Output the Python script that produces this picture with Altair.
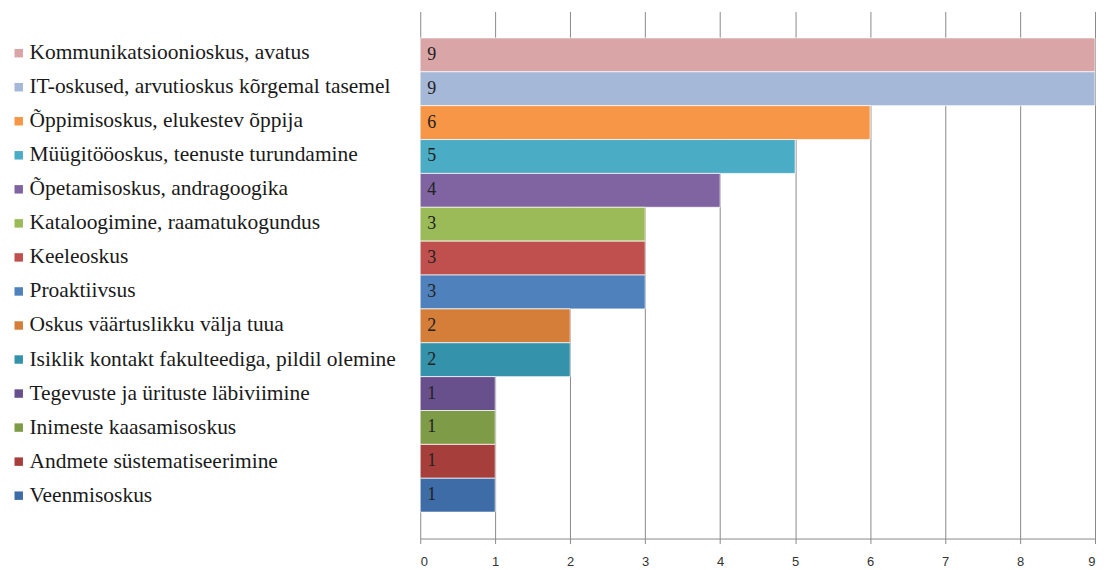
import altair as alt
import pandas as pd

categories = [
    "Kommunikatsioonioskus, avatus",
    "IT-oskused, arvutioskus kõrgemal tasemel",
    "Õppimisoskus, elukestev õppija",
    "Müügitööoskus, teenuste turundamine",
    "Õpetamisoskus, andragoogika",
    "Kataloogimine, raamatukogundus",
    "Keeleoskus",
    "Proaktiivsus",
    "Oskus väärtuslikku välja tuua",
    "Isiklik kontakt fakulteediga, pildil olemine",
    "Tegevuste ja ürituste läbiviimine",
    "Inimeste kaasamisoskus",
    "Andmete süstematiseerimine",
    "Veenmisoskus",
]
values = [9, 9, 6, 5, 4, 3, 3, 3, 2, 2, 1, 1, 1, 1]
colors = [
    "#D9A5A6", "#A6B8D8", "#F79646", "#4BACC6", "#8064A2", "#9BBB59", "#C0504D",
    "#4F81BD", "#D57E3A", "#3592AB", "#68508C", "#7E9C47", "#A63E3B", "#3E6CA6",
]
ticks = list(range(10))

df = pd.DataFrame({"skill": categories, "value": values})

yenc = alt.Y("skill:N", sort=categories,
             scale=alt.Scale(paddingInner=0, paddingOuter=0.78), axis=None)

base = alt.Chart(df)

bars = base.mark_bar(stroke="#ffffff", strokeWidth=1, strokeOpacity=0.7).encode(
    y=yenc,
    x=alt.X("value:Q", scale=alt.Scale(domain=[0, 9], nice=False),
            axis=alt.Axis(values=ticks, format="d", grid=True, gridColor="#8a8a8a",
                          gridWidth=1, domainColor="#8a8a8a", tickColor="#8a8a8a",
                          tickSize=5, labelFont="Liberation Sans", labelFontSize=13,
                          labelColor="#333333", labelPadding=12, title=None)),
    color=alt.Color("skill:N", scale=alt.Scale(domain=categories, range=colors),
                    legend=alt.Legend(orient="none", legendX=-413, legendY=31, title=None,
                                      symbolType="square", symbolSize=72,
                                      symbolStrokeWidth=0, labelFont="Liberation Serif",
                                      labelFontSize=21.5, labelColor="#1a1a1a",
                                      labelOffset=0, rowPadding=11.1, padding=0,
                                      labelLimit=420)),
)

text = base.mark_text(align="left", baseline="middle", dx=7, font="Liberation Serif",
                      fontSize=18, color="#222222").encode(
    y=yenc,
    x=alt.datum(0),
    text="value:Q",
)

chart = (bars + text).properties(
    width=676, height=528,
    padding={"left": 0, "top": 3, "right": 2, "bottom": 2},
).configure_view(strokeWidth=0)

chart.save("out.html", embed_options={"renderer": "svg", "actions": False})
